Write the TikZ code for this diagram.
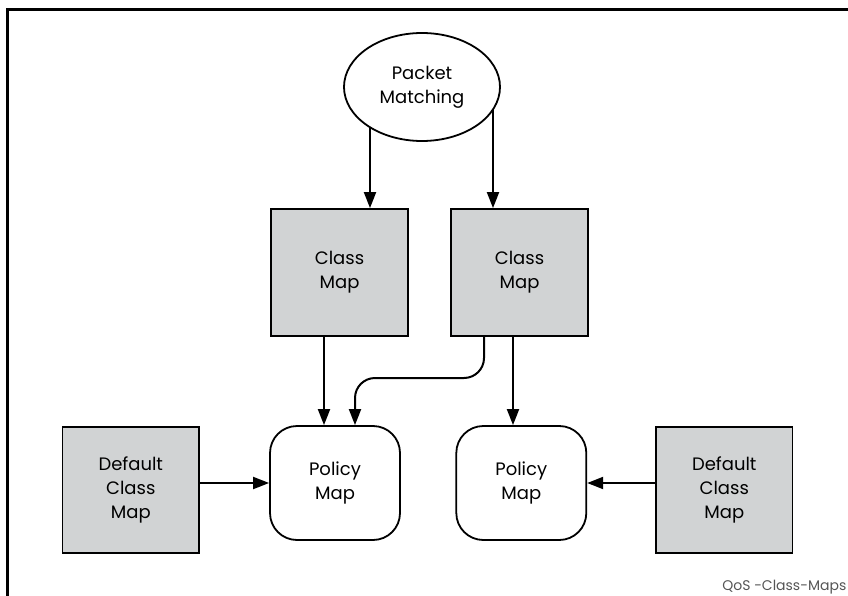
\documentclass[tikz,border=0pt]{standalone}
\usepackage{fontspec}
\setmainfont{Poppins}
\usetikzlibrary{arrows.meta,shapes.geometric,backgrounds}
\definecolor{boxgray}{HTML}{D1D3D4}
\definecolor{capgray}{HTML}{555555}
\begin{document}
\begin{tikzpicture}[x=1pt,y=-1pt,
  lbl/.style={align=center,font=\fontsize{18}{24}\selectfont},
  graybox/.style={lbl,draw=black,line width=1.8pt,fill=boxgray,inner sep=0pt},
  policybox/.style={lbl,draw=black,line width=1.8pt,fill=white,rounded corners=27pt,inner sep=0pt,minimum width=130pt,minimum height=114pt},
  oval/.style={lbl,ellipse,draw=black,line width=1.8pt,fill=white,inner sep=0pt,minimum width=156pt,minimum height=108pt},
  conn/.style={line width=2pt,-{Triangle[length=16pt,width=12pt]}}]
\useasboundingbox (0,0) rectangle (848,596);
\draw[line width=2.5pt] (848,9.5) -- (7.5,9.5) -- (7.5,596);
\node[oval] (pm) at (422,87) {Packet\\Matching};
\node[graybox,minimum width=137pt,minimum height=127pt] (cm1) at (339.5,272.5) {Class\\Map};
\node[graybox,minimum width=137pt,minimum height=127pt] (cm2) at (519.5,272.5) {Class\\Map};
\node[policybox] (pol1) at (335,483) {Policy\\Map};
\node[policybox] (pol2) at (521.3,483) {Policy\\Map};
\node[graybox,minimum width=136.5pt,minimum height=126.5pt] (def1) at (130.8,490) {Default\\Class\\Map};
\node[graybox,minimum width=136.5pt,minimum height=126.5pt] (def2) at (724.3,490) {Default\\Class\\Map};
\begin{pgfonlayer}{background}
\draw[conn] (pm.center -| 370,0) -- (cm1.north -| 370,0);
\draw[conn] (pm.center -| 493,0) -- (cm2.north -| 493,0);
\end{pgfonlayer}
\draw[conn] (cm1.south -| 324,0) -- (pol1.north -| 324,0);
\coordinate (bendA) at (484,378);
\coordinate (bendB) at (355,378);
\draw[conn,rounded corners=20pt] (cm2.south -| bendA) -- (bendA) -- (bendB) -- (pol1.north -| bendB);
\draw[conn] (cm2.south -| 513,0) -- (pol2.north -| 513,0);
\draw[conn] (def1.east |- 0,483) -- (pol1.west |- 0,483);
\draw[conn] (def2.west |- 0,483) -- (pol2.east |- 0,483);
\node[anchor=base east,font=\fontsize{14}{16}\selectfont,text=capgray,inner sep=0pt] (cap) at (846.5,590) {QoS -Class-Maps};
\end{tikzpicture}
\end{document}
